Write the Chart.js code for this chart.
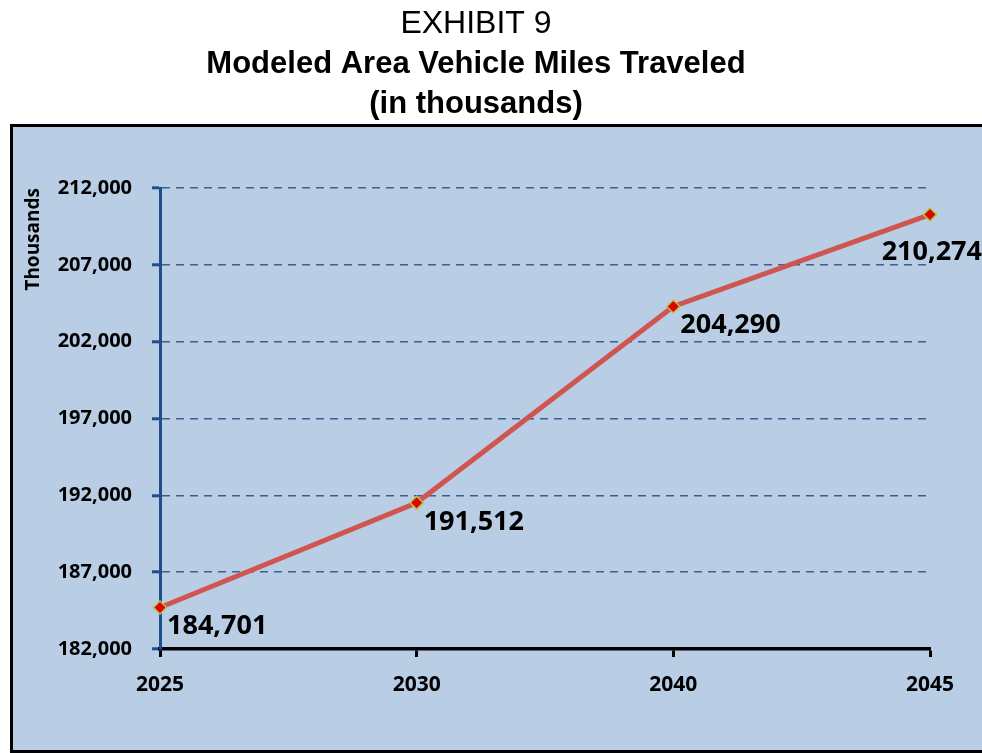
<!DOCTYPE html>
<html>
<head>
<meta charset="utf-8">
<script src="https://cdn.jsdelivr.net/npm/chart.js@4"></script>
<style>
  body { margin: 0; background: #fff; overflow: hidden; }
  #frame { position: absolute; left: 10px; top: 124px; width: 985px; height: 623px;
           border: 3px solid #000; background: #b9cde5; }
  #wrap { position: absolute; left: 0; top: 0; width: 982px; height: 753px; }
</style>
</head>
<body>
<div id="frame"></div>
<div id="wrap"><canvas id="vmt"></canvas></div>
<script>
const years = ['2025', '2030', '2040', '2045'];
const vmt = [184701, 191512, 204290, 210274];
const yMin = 182000;
const yMax = 212000;
const yStep = 5000;

const fmt = v => v.toLocaleString('en-US');

// value labels below-right of each point
const pointLabels = {
    id: 'pointLabels',
    afterDatasetsDraw(chart) {
        const ctx = chart.ctx;
        const meta = chart.getDatasetMeta(0);
        ctx.save();
        ctx.font = 'bold 27px "Open Sans"';
        ctx.fillStyle = '#000';
        ctx.textBaseline = 'middle';
        meta.data.forEach((pt, i) => {
            const txt = fmt(vmt[i]);
            const w = ctx.measureText(txt).width;
            let x = pt.x + 7;
            let y = pt.y + 19;
            if (x + w > chart.width) { x = chart.width - w; y = pt.y + 38; }
            ctx.fillText(txt, x, y);
        });
        ctx.restore();
    }
};

new Chart(document.getElementById('vmt'), {
    type: 'line',
    data: {
        labels: years,
        datasets: [{
            data: vmt,
            borderColor: '#d0544f',
            borderWidth: 5,
            pointStyle: 'rectRot',
            pointRadius: 6.5,
            pointBackgroundColor: '#e00000',
            pointBorderColor: '#b5c63e',
            pointBorderWidth: 1.5,
            tension: 0
        }]
    },
    options: {
        responsive: true,
        maintainAspectRatio: false,
        animation: false,
        layout: { padding: { left: 22, right: 52, top: 0, bottom: 0 } },
        plugins: {
            legend: { display: false },
            tooltip: { enabled: false },
            title: {
                display: true,
                text: 'EXHIBIT 9',
                color: '#000',
                font: { family: '"Liberation Sans", Arial', size: 32, weight: 'normal', lineHeight: 1.2 },
                padding: { top: 5, bottom: 1 }
            },
            subtitle: {
                display: true,
                text: ['Modeled Area Vehicle Miles Traveled', '(in thousands)'],
                color: '#000',
                font: { family: '"Liberation Sans", Arial', size: 31, weight: 'bold', lineHeight: 1.3 },
                padding: { top: 0, bottom: 63 }
            }
        },
        scales: {
            x: {
                offset: false,
                grid: { display: true, drawOnChartArea: false, drawTicks: true,
                        tickColor: '#000', tickWidth: 3, tickLength: 8 },
                border: { display: true, color: '#000', width: 3.5 },
                ticks: { color: '#000', padding: 15,
                         font: { family: '"Open Sans"', size: 21, weight: 'bold' } },
                afterFit: s => { s.height = 104; }
            },
            y: {
                min: yMin,
                max: yMax,
                ticks: { stepSize: yStep, color: '#000', padding: 20,
                         font: { family: '"Open Sans"', size: 20, weight: 'bold' },
                         callback: v => fmt(v) },
                grid: { color: '#3a5f92', lineWidth: 1.6, drawTicks: true,
                        tickColor: '#1f4e8c', tickWidth: 3, tickLength: 8, tickBorderDash: [] },
                border: { display: true, color: '#1f4e8c', width: 3, dash: [8, 6] },
                title: { display: true, text: 'Thousands', color: '#000', padding: 0, align: 'end',
                         font: { family: '"Open Sans"', size: 19, weight: 'bold' } },
                afterFit: s => { s.width = 138; }
            }
        }
    },
    plugins: [pointLabels]
});
</script>
</body>
</html>
